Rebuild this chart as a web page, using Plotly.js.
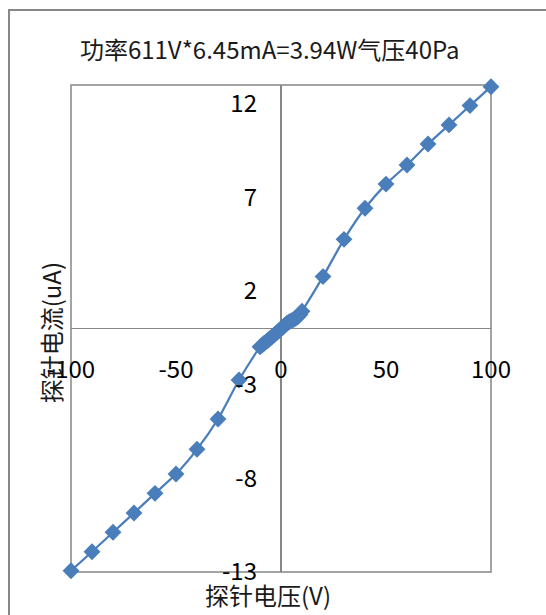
<!DOCTYPE html>
<html>
<head>
<meta charset="utf-8">
<script src="https://cdn.plot.ly/plotly-3.0.1.min.js"></script>
<style>
  html, body { margin:0; padding:0; background:#fff; overflow:hidden; }
  #frame { position:absolute; left:8px; top:9px; width:700px; height:800px; border:2px solid #878787; box-sizing:border-box; }
  #chart { position:absolute; left:0; top:0; width:546px; height:615px; }
</style>
</head>
<body>
<div id="frame"></div>
<div id="chart"></div>
<script>
const chartTitle = "功率611V*6.45mA=3.94W气压40Pa";
const xTitle = "探针电压(V)";
const yTitle = "探针电流(uA)";
const voltage = [-100, -90, -80, -70, -60, -50, -40, -30, -20, -10,
                 -9, -8, -7, -6, -5, -4, -3, -2, -1, 0,
                 1, 2, 3, 4, 5, 6, 7, 8, 9, 10,
                 20, 30, 40, 50, 60, 70, 80, 90, 100];
const current = [-12.93, -11.92, -10.88, -9.85, -8.80, -7.77, -6.45, -4.83, -2.75, -0.98,
                 -0.88, -0.79, -0.70, -0.61, -0.51, -0.42, -0.32, -0.22, -0.12, -0.02,
                 0.08, 0.19, 0.29, 0.36, 0.42, 0.48, 0.55, 0.63, 0.75, 0.92,
                 2.77, 4.76, 6.42, 7.71, 8.73, 9.85, 10.87, 11.90, 12.91];
const xTicks = [-100, -50, 0, 50, 100];
const xTickLabels = ["-100", "-50", "0", "50", "100"];
const yTicks = [-13, -8, -3, 2, 7, 12];
const yTickLabels = ["-13", "-8", "-3", "2", "7", "12"];

const font = "'Noto Sans CJK SC', 'Liberation Sans', sans-serif";
const grey = "#878787";

Plotly.newPlot("chart", [{
  x: voltage, y: current, type: "scatter", mode: "lines+markers",
  line: { color: "#4A7EBB", width: 2.25, shape: "spline", smoothing: 0.6 },
  marker: { symbol: "diamond", size: 13, color: "#4A7EBB" },
  cliponaxis: false, showlegend: false
}], {
  width: 546, height: 615,
  margin: { l: 71, r: 55, t: 85, b: 43 },
  paper_bgcolor: "rgba(0,0,0,0)", plot_bgcolor: "rgba(0,0,0,0)",
  font: { family: font, size: 24, color: "#000" },
  title: { text: chartTitle, x: 0.494, xanchor: "center", y: 0.918, yanchor: "middle",
           font: { family: font, size: 24, color: "#1a1a1a" } },
  xaxis: { range: [-100, 100], tickvals: xTicks, ticktext: xTickLabels, anchor: "free", position: 0.5,
           showgrid: false, showline: false, zeroline: true, zerolinecolor: grey, zerolinewidth: 1.5,
           ticks: "", ticklabelstandoff: 24, tickfont: { size: 24, family: font, color: "#000" } },
  yaxis: { range: [-13, 13], tickvals: yTicks, ticktext: yTickLabels, anchor: "free", position: 0.5,
           showgrid: false, showline: false, zeroline: true, zerolinecolor: grey, zerolinewidth: 1.5,
           ticks: "", ticklabelstandoff: 24, tickfont: { size: 24, family: font, color: "#000" } },
  shapes: [{ type: "rect", xref: "paper", yref: "paper", x0: 0, x1: 1, y0: 0, y1: 1,
             line: { color: grey, width: 1.5 }, layer: "below" }],
  annotations: [
    { text: xTitle, xref: "paper", yref: "paper", x: 0.47, y: -0.047, xanchor: "center", yanchor: "middle",
      showarrow: false, font: { family: font, size: 24, color: "#1a1a1a" } },
    { text: yTitle, xref: "paper", yref: "paper", x: -0.05, y: 0.49, xanchor: "center", yanchor: "middle",
      textangle: -90, showarrow: false, font: { family: font, size: 24, color: "#1a1a1a" } }
  ]
}, { staticPlot: true });
</script>
</body>
</html>
